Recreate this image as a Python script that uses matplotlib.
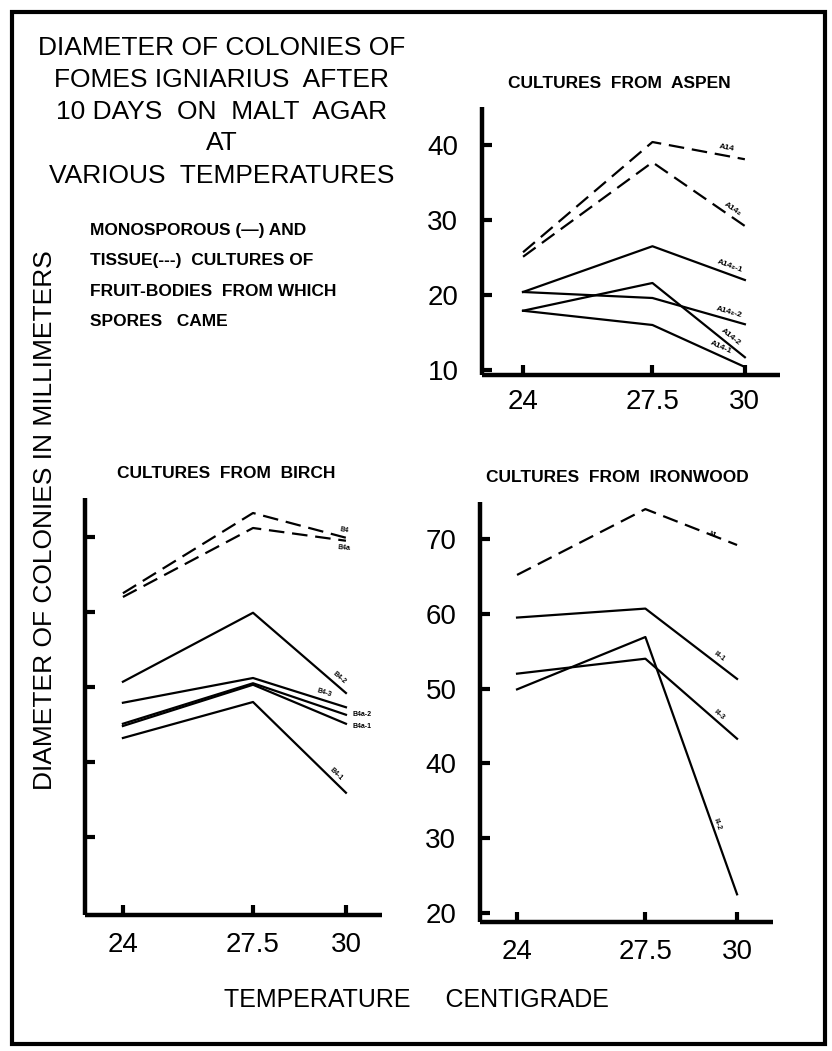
import matplotlib
matplotlib.use("Agg")
import matplotlib.pyplot as plt
from matplotlib.patches import Rectangle
import numpy as np

plt.rcParams['font.family'] = ['Liberation Sans', 'DejaVu Sans']

W, H = 832, 1051
DPI = 100

temps = [24, 27.5, 30]
temp_labels = ["24", "27.5", "30"]

# ---- Aspen (values in mm) ----
aspen_A14 = [25.7, 40.4, 38.1]
aspen_A14_2 = [25.1, 37.7, 29.2]
aspen_A14_2_1 = [20.4, 26.5, 22.0]
aspen_A14_2_2 = [20.4, 19.6, 16.1]
aspen_A14m2 = [17.9, 21.6, 11.7]
aspen_A14m1 = [17.9, 16.0, 10.4]
aspen_yticks = [10, 20, 30, 40]

# ---- Birch ----
birch_B4 = [62.5, 73.2, 69.9]
birch_B4a = [62.0, 71.2, 69.5]
birch_B4m2 = [50.7, 59.9, 49.2]
birch_B4m3 = [47.9, 51.2, 47.3]
birch_B4a_2 = [45.1, 50.5, 46.3]
birch_B4a_1 = [44.8, 50.3, 45.1]
birch_B4m1 = [43.2, 48.0, 35.9]
birch_yticks = [30, 40, 50, 60, 70]

# ---- Ironwood ----
iron_I4 = [65.2, 74.0, 69.2]
iron_I4m1 = [59.5, 60.7, 51.3]
iron_I4m3 = [52.0, 54.0, 43.3]
iron_I4m2 = [49.9, 56.9, 22.5]
iron_yticks = [20, 30, 40, 50, 60, 70]

fig = plt.figure(figsize=(W / DPI, H / DPI), dpi=DPI)
fig.patch.set_facecolor("white")


def px_axes(left, top, right, bottom):
    return fig.add_axes([left / W, 1 - bottom / H, (right - left) / W, (bottom - top) / H])


def style(ax, xlim, ylim, yticks, ylabels=True, ypad=17, xpad=9):
    ax.set_xlim(*xlim)
    ax.set_ylim(*ylim)
    for s in ("top", "right"):
        ax.spines[s].set_visible(False)
    for s in ("left", "bottom"):
        ax.spines[s].set_linewidth(3.2)
        ax.spines[s].set_capstyle("butt")
    ax.set_xticks(temps)
    ax.set_xticklabels(temp_labels)
    ax.set_yticks(yticks)
    if ylabels:
        ax.set_yticklabels([str(v) for v in yticks])
    else:
        ax.set_yticklabels([])
    ax.tick_params(axis="both", direction="in", length=7, width=3, labelsize=20)
    ax.tick_params(axis="y", pad=ypad)
    ax.tick_params(axis="x", pad=xpad)
    ax.patch.set_alpha(0)


def draw(ax, vals, dashed=False):
    if dashed:
        ax.plot(temps, vals, color="black", lw=1.6, dashes=(7, 3.5))
    else:
        ax.plot(temps, vals, color="black", lw=1.6)


def seg_label(ax, vals, text, frac=0.75, off=3, size=6, seg=1):
    x0, x1 = temps[seg], temps[seg + 1]
    y0, y1 = vals[seg], vals[seg + 1]
    p0 = ax.transData.transform((x0, y0))
    p1 = ax.transData.transform((x1, y1))
    ang = np.degrees(np.arctan2(p1[1] - p0[1], p1[0] - p0[0]))
    xm = x0 + frac * (x1 - x0)
    ym = y0 + frac * (y1 - y0)
    ax.annotate(text, (xm, ym), xytext=(0, off), textcoords="offset points",
                rotation=ang, rotation_mode="anchor", ha="center", va="bottom",
                fontsize=size, fontweight="bold")


# ---- Aspen panel ----
ax1 = px_axes(482, 107, 780, 375)
style(ax1, (22.89, 30.95), (9.33, 45.07), aspen_yticks, ypad=17, xpad=10)
draw(ax1, aspen_A14, True)
draw(ax1, aspen_A14_2, True)
draw(ax1, aspen_A14_2_1)
draw(ax1, aspen_A14_2_2)
draw(ax1, aspen_A14m2)
draw(ax1, aspen_A14m1)
seg_label(ax1, aspen_A14, "A14", frac=0.8)
seg_label(ax1, aspen_A14_2, "A14₂", frac=0.85)
seg_label(ax1, aspen_A14_2_1, "A14₂-1", frac=0.82)
seg_label(ax1, aspen_A14_2_2, "A14₂-2", frac=0.82)
seg_label(ax1, aspen_A14m2, "A14-2", frac=0.82)
seg_label(ax1, aspen_A14m1, "A14-1", frac=0.72)
fig.text(619 / W, 1 - 83 / H, "CULTURES  FROM  ASPEN", ha="center", va="center",
         fontsize=12.5, fontweight="bold")

# ---- Birch panel ----
ax2 = px_axes(85, 498, 382, 915)
style(ax2, (22.98, 30.97), (19.6, 75.2), birch_yticks, ylabels=False, xpad=12)
draw(ax2, birch_B4, True)
draw(ax2, birch_B4a, True)
draw(ax2, birch_B4m2)
draw(ax2, birch_B4m3)
draw(ax2, birch_B4a_2)
draw(ax2, birch_B4a_1)
draw(ax2, birch_B4m1)
ax2.annotate("B4", (29.95, birch_B4[2]), xytext=(0, 2), textcoords="offset points",
             ha="center", va="bottom", fontsize=5, fontweight="bold", rotation=-10)
ax2.annotate("B4a", (29.95, birch_B4a[2]), xytext=(0, -2), textcoords="offset points",
             ha="center", va="top", fontsize=5, fontweight="bold", rotation=-5)
seg_label(ax2, birch_B4m2, "B4-2", frac=0.9, size=5)
seg_label(ax2, birch_B4m3, "B4-3", frac=0.75, size=5)
ax2.annotate("B4a-2", (30.1, birch_B4a_2[2]), xytext=(2, 0), textcoords="offset points",
             ha="left", va="center", fontsize=5, fontweight="bold")
ax2.annotate("B4a-1", (30.1, birch_B4a_1[2]), xytext=(2, -2), textcoords="offset points",
             ha="left", va="center", fontsize=5, fontweight="bold")
seg_label(ax2, birch_B4m1, "B4-1", frac=0.87, size=5)
fig.text(226 / W, 1 - 474 / H, "CULTURES  FROM  BIRCH", ha="center", va="center",
         fontsize=12.5, fontweight="bold")

# ---- Ironwood panel ----
ax3 = px_axes(480, 502, 773, 922)
style(ax3, (22.99, 30.98), (18.8, 74.95), iron_yticks, ypad=17, xpad=12)
draw(ax3, iron_I4, True)
draw(ax3, iron_I4m1)
draw(ax3, iron_I4m3)
draw(ax3, iron_I4m2)
seg_label(ax3, iron_I4, "I4", frac=0.72, off=-2, size=6)
seg_label(ax3, iron_I4m1, "I4-1", frac=0.78, size=5)
seg_label(ax3, iron_I4m3, "I4-3", frac=0.78, size=5)
seg_label(ax3, iron_I4m2, "I4-2", frac=0.75, size=5)
fig.text(617 / W, 1 - 478 / H, "CULTURES  FROM  IRONWOOD", ha="center", va="center",
         fontsize=12.5, fontweight="bold")

# ---- Main title ----
title_lines = ["DIAMETER OF COLONIES OF", "FOMES IGNIARIUS  AFTER", "10 DAYS  ON  MALT  AGAR",
               "AT", "VARIOUS  TEMPERATURES"]
title_y = [48, 80, 112, 143, 176]
for t, y in zip(title_lines, title_y):
    fig.text(222 / W, 1 - y / H, t, ha="center", va="center", fontsize=19)

note_lines = ["MONOSPOROUS (—) AND", "TISSUE(---)  CULTURES OF",
              "FRUIT-BODIES  FROM WHICH", "SPORES   CAME"]
note_y = [230, 261, 291, 322]
for t, y in zip(note_lines, note_y):
    fig.text(90 / W, 1 - y / H, t, ha="left", va="center", fontsize=12.5,
             fontweight="bold")

fig.text(45 / W, 1 - 520 / H, "DIAMETER OF COLONIES IN MILLIMETERS", rotation=90,
         ha="center", va="center", fontsize=19)
fig.text(416 / W, 1 - 1000 / H, "TEMPERATURE     CENTIGRADE", ha="center", va="center",
         fontsize=18)

# border
fig.patches.append(Rectangle((12 / W, 1 - 1044 / H), (825 - 12) / W, (1044 - 12) / H,
                             transform=fig.transFigure, fill=False, lw=3, ec="black"))

fig.savefig("out.png", dpi=DPI, facecolor="white")
